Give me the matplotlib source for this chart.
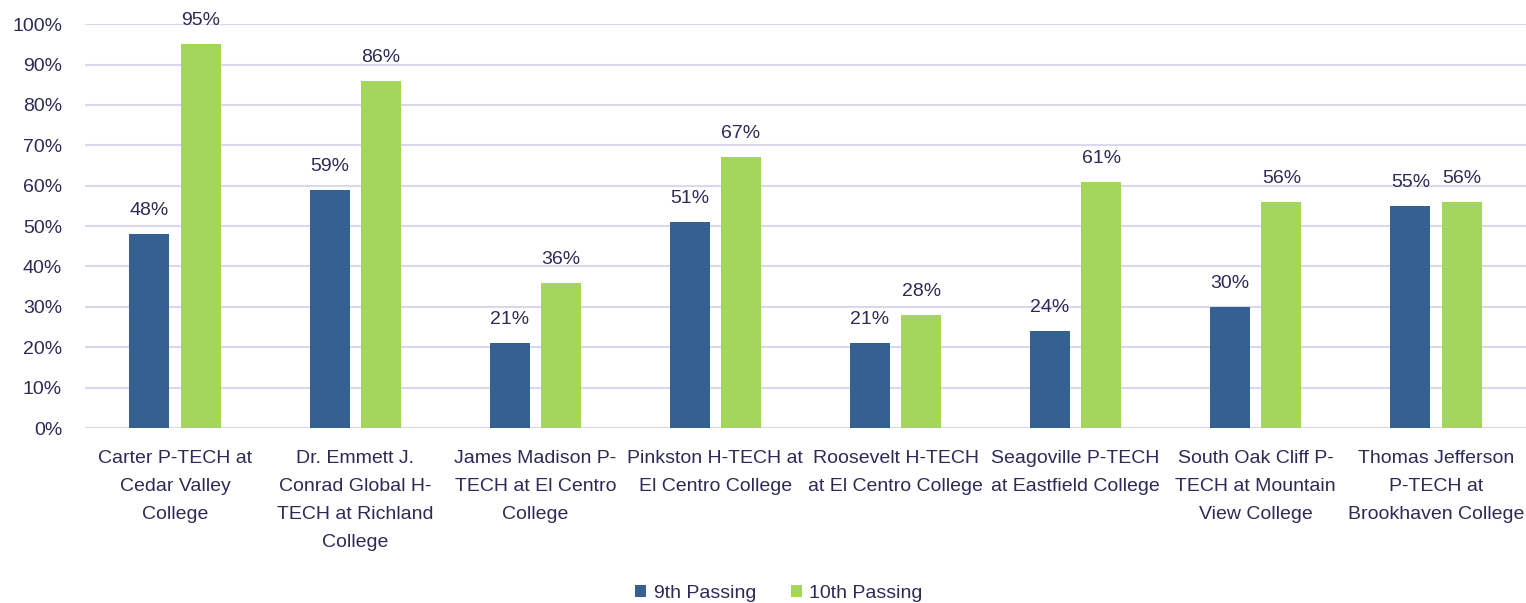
import matplotlib.pyplot as plt
import numpy as np

schools = ['Carter P-TECH at\nCedar Valley\nCollege',
           'Dr. Emmett J.\nConrad Global H-\nTECH at Richland\nCollege',
           'James Madison P-\nTECH at El Centro\nCollege',
           'Pinkston H-TECH at\nEl Centro College',
           'Roosevelt H-TECH\nat El Centro College',
           'Seagoville P-TECH\nat Eastfield College',
           'South Oak Cliff P-\nTECH at Mountain\nView College',
           'Thomas Jefferson\nP-TECH at\nBrookhaven College']
pass9 = [48, 59, 21, 51, 21, 24, 30, 55]
pass10 = [95, 86, 36, 67, 28, 61, 56, 56]

txt = '#2b2b55'
plt.rcParams['font.family'] = ['Liberation Sans', 'DejaVu Sans']
fs = 14

fig = plt.figure(figsize=(15.26, 6.03), dpi=100)
ax = fig.add_axes([0.0557, 0.2902, 0.9443, 0.6698])

x = np.arange(len(schools))
w = 0.222
b1 = ax.bar(x - 0.142, pass9, w, color='#356092', label='9th Passing', zorder=2)
b2 = ax.bar(x + 0.142, pass10, w, color='#a5d65c', label='10th Passing', zorder=2)

for bars, vals in ((b1, pass9), (b2, pass10)):
    for r, v in zip(bars, vals):
        ax.text(r.get_x() + r.get_width() / 2, v + 3.7, '%d%%' % v, ha='center', va='bottom',
                fontsize=fs, color=txt, clip_on=False)

ax.set_xlim(-0.5, len(schools) - 0.5)
ax.set_ylim(0, 100)
ax.set_yticks(range(0, 101, 10))
ax.set_yticklabels(['%d%%' % t for t in range(0, 101, 10)])
ax.set_xticks(x)
ax.set_xticklabels(schools, linespacing=1.83)
ax.tick_params(axis='y', length=0, pad=16.5, labelsize=fs, labelcolor=txt)
ax.tick_params(axis='x', length=0, pad=16, labelsize=fs, labelcolor=txt)
ax.yaxis.grid(True, color='#d9d9ee', linewidth=1.5, zorder=0)
ax.set_axisbelow(True)
for s in ax.spines.values():
    s.set_visible(False)

fig.legend(loc='lower center', bbox_to_anchor=(0.5105, -0.027), ncol=2, frameon=False,
           fontsize=fs, labelcolor=txt, handlelength=0.55, handleheight=0.55,
           handletextpad=0.4, columnspacing=1.8)

plt.savefig('out.png')
